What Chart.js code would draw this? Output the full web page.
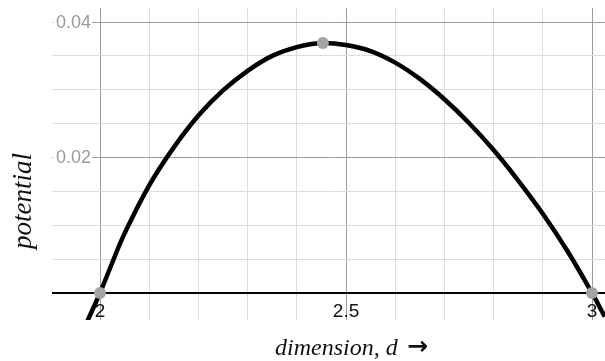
<!DOCTYPE html>
<html>
<head>
<meta charset="utf-8">
<script src="https://cdn.jsdelivr.net/npm/chart.js@4/dist/chart.umd.min.js"></script>
<style>
html,body{margin:0;padding:0;background:#fff;}
#wrap{width:605px;height:361px;position:relative;}
</style>
</head>
<body>
<div id="wrap"><canvas id="c" width="605" height="361"></canvas></div>
<script>
// Curve samples
const dimension = [1.974, 2.0, 2.025, 2.05, 2.1, 2.15, 2.2, 2.25, 2.3, 2.35, 2.4, 2.45, 2.5, 2.55, 2.6, 2.65, 2.7, 2.75, 2.8, 2.85, 2.9, 2.95, 3.0, 3.026];
const potential = [-0.0042, 0, 0.0045, 0.0088, 0.0159, 0.0215, 0.0262, 0.0299, 0.0328, 0.0350, 0.0363, 0.0369, 0.0366, 0.0357, 0.0340, 0.0316, 0.0286, 0.0251, 0.0211, 0.0166, 0.0117, 0.0062, 0, -0.0035];
// Marked points
const markD = [2.0, 2.453, 3.0];
const markP = [0, 0.0369, 0];
// Tick labels
const xLabels = [2, 2.5, 3];
const xLabelText = ['2', '2.5', '3'];
const yLabels = [0.02, 0.04];
const yLabelText = ['0.02', '0.04'];

const curve = dimension.map((d, i) => ({x: d, y: potential[i]}));
const marks = markD.map((d, i) => ({x: d, y: markP[i]}));

const near = (a, b) => Math.abs(a - b) < 1e-6;
const isMajorX = v => near(v, 2) || near(v, 2.5) || near(v, 3);
const isMajorY = v => near(v, 0.02) || near(v, 0.04);

const labelPlugin = {
  id: 'labels',
  afterDatasetsDraw(chart) {
    const ctx = chart.ctx;
    const xs = chart.scales.x, ys = chart.scales.y;
    const x0 = xs.getPixelForValue(2);
    const y0 = ys.getPixelForValue(0);
    ctx.save();
    // y tick labels with white backdrop, next to the d=2 axis
    ctx.font = '18px "Liberation Sans", Arial, sans-serif';
    ctx.textAlign = 'right';
    ctx.textBaseline = 'middle';
    yLabels.forEach((v, i) => {
      const y = ys.getPixelForValue(v);
      const w = ctx.measureText(yLabelText[i]).width;
      ctx.fillStyle = '#ffffff';
      ctx.fillRect(x0 - 10 - w - 2, y - 9, w + 4, 18);
      ctx.fillStyle = '#9a9a9a';
      ctx.fillText(yLabelText[i], x0 - 9, y + 1);
    });
    // x tick labels below the axis
    ctx.textAlign = 'center';
    ctx.textBaseline = 'alphabetic';
    ctx.fillStyle = '#111111';
    ctx.font = '19px "Liberation Sans", Arial, sans-serif';
    xLabels.forEach((v, i) => {
      const x = xs.getPixelForValue(v);
      ctx.fillText(xLabelText[i], x, y0 + 24);
    });
    // axis titles
    ctx.fillStyle = '#111111';
    ctx.font = 'italic 24px "Liberation Serif", "Times New Roman", serif';
    ctx.textAlign = 'left';
    ctx.fillText('dimension, d', 275, 355);
    ctx.font = 'bold 25px "DejaVu Sans", sans-serif';
    ctx.fillText('\u2192', 407, 354);
    ctx.translate(31, 201);
    ctx.rotate(-Math.PI / 2);
    ctx.textAlign = 'center';
    ctx.font = 'italic 27px "Liberation Serif", "Times New Roman", serif';
    ctx.fillText('potential', 0, 0);
    ctx.restore();
  }
};

new Chart(document.getElementById('c'), {
  type: 'scatter',
  data: {
    datasets: [
      {
        data: marks,
        pointRadius: 6,
        pointBackgroundColor: '#a3a3a3',
        pointBorderWidth: 0,
        showLine: false
      },
      {
        data: curve,
        showLine: true,
        borderColor: '#000000',
        borderWidth: 4.5,
        pointRadius: 0,
        tension: 0.4,
        fill: false
      }
    ]
  },
  options: {
    responsive: false,
    animation: false,
    devicePixelRatio: 1,
    layout: {autoPadding: false, padding: {left: 52, top: 8, right: 0, bottom: 41}},
    plugins: {legend: {display: false}, tooltip: {enabled: false}},
    scales: {
      x: {
        type: 'linear',
        min: 1.9024,
        max: 3.0264,
        border: {display: false},
        ticks: {display: false, stepSize: 0.1, includeBounds: false},
        grid: {
          drawTicks: false,
          color: c => isMajorX(c.tick.value) ? '#9c9c9c' : '#dcdcdc',
          lineWidth: 1
        }
      },
      y: {
        type: 'linear',
        min: -0.00399,
        max: 0.04207,
        border: {display: false},
        ticks: {display: false, stepSize: 0.005, includeBounds: false},
        grid: {
          drawTicks: false,
          color: c => near(c.tick.value, 0) ? '#000000' : (isMajorY(c.tick.value) ? '#9c9c9c' : '#dcdcdc'),
          lineWidth: c => near(c.tick.value, 0) ? 2 : 1
        }
      }
    }
  },
  plugins: [labelPlugin]
});
</script>
</body>
</html>
